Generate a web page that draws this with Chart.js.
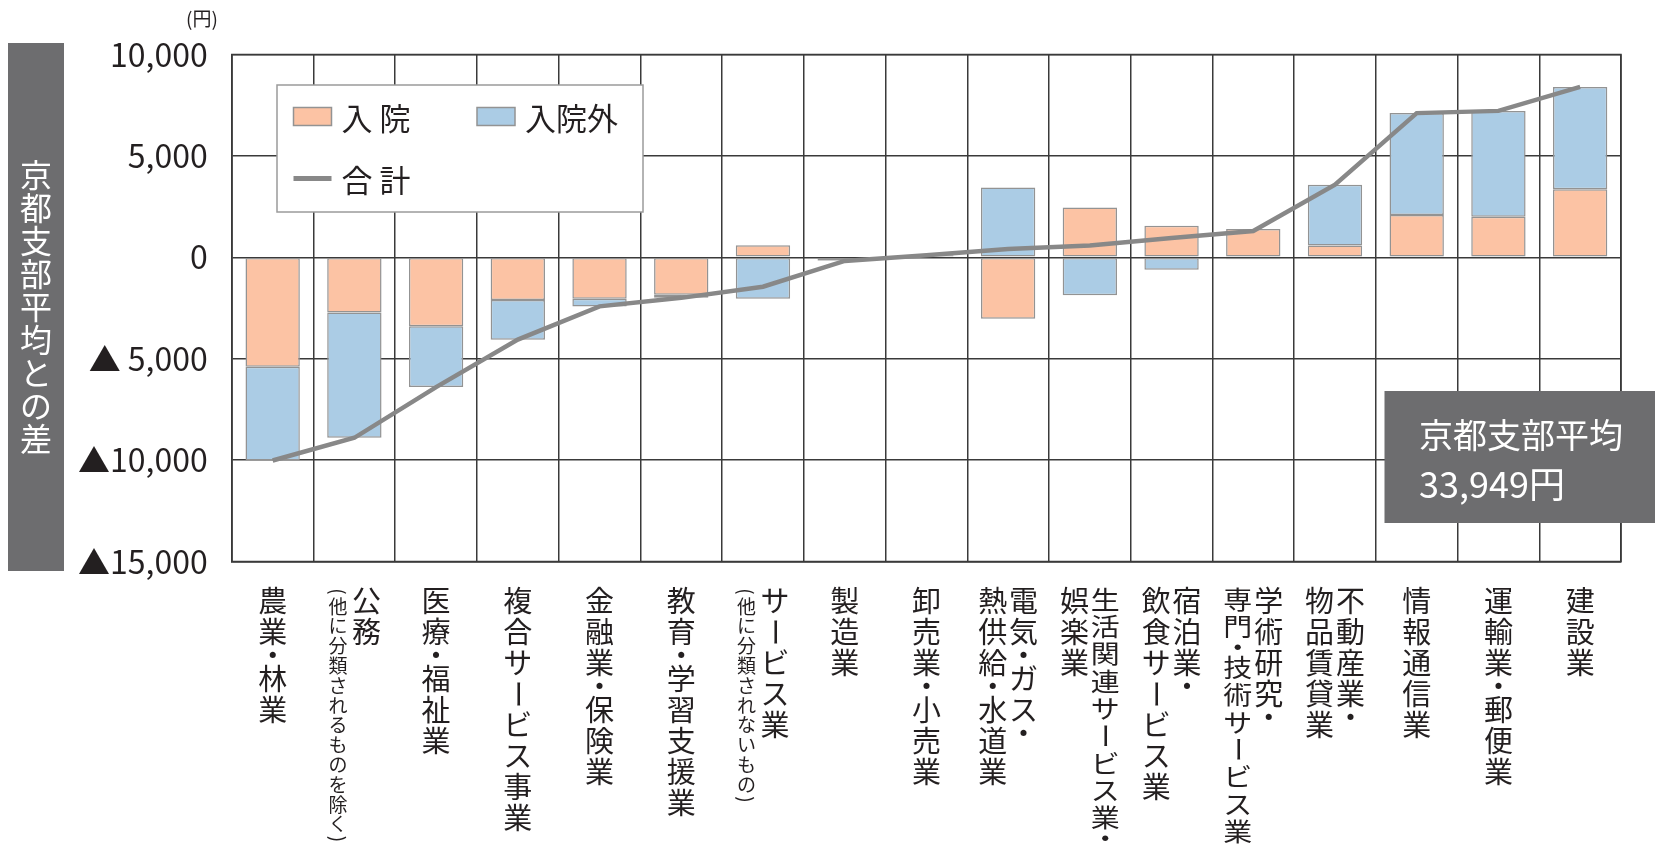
<!DOCTYPE html>
<html lang="ja">
<head>
<meta charset="utf-8">
<title>京都支部平均との差</title>
<script src="https://cdn.jsdelivr.net/npm/chart.js@4.4.1/dist/chart.umd.min.js"></script>
<style>
  html, body { margin: 0; padding: 0; background: #fff; }
  #wrap { width: 1655px; height: 849px; position: relative; }
</style>
</head>
<body>
<div id="wrap"><canvas id="diffChart"></canvas></div>
<script>
// industries, each label split into vertical lines (first line drawn rightmost)
const industries = [
  ['農業・林業'],
  ['公務'],
  ['医療・福祉業'],
  ['複合サービス事業'],
  ['金融業・保険業'],
  ['教育・学習支援業'],
  ['サービス業'],
  ['製造業'],
  ['卸売業・小売業'],
  ['電気・ガス・', '熱供給・水道業'],
  ['生活関連サービス業・', '娯楽業'],
  ['宿泊業・', '飲食サービス業'],
  ['学術研究・', '専門・技術サービス業'],
  ['不動産業・', '物品賃貸業'],
  ['情報通信業'],
  ['運輸業・郵便業'],
  ['建設業']
];
const industryNotes = [
  '', '(他に分類されるものを除く)', '', '', '', '', '(他に分類されないもの)',
  '', '', '', '', '', '', '', '', '', ''
];

// difference from the branch average (yen)
const inpatient  = [-5400, -2720, -3400, -2100, -2050, -1850,   600, -160, 40, -3030,  2450, 1560, 1400,  580, 2080, 2000, 3350];
const outpatient = [-4620, -6180, -3000, -1960,  -370,  -150, -2050,  -20, 60,  3440, -1870, -610, -100, 3000, 5030, 5220, 5050];
const total      = [-10020, -8900, -6400, -4060, -2420, -2000, -1450, -180, 100, 410, 580, 950, 1300, 3580, 7110, 7220, 8400];

const yMin = -15000;
const yMax = 10000;
const yStep = 5000;

const branchAverage = 33949;

const FONT = '"Noto Sans CJK JP", "Noto Sans", sans-serif';
const TEXT = '#231f20';
const GRID = '#3a3a3a';
const ORANGE = '#fcc3a4';
const BLUE = '#abcce5';
const BAR_EDGE = '#939393';
const LINE = '#888888';
const DARK_BOX = '#6d6d6f';

const fmt = n => n.toLocaleString('en-US');

// characters turned sideways in vertical text, and ones taking half a cell
const ROTATED = new Set(['ー', '(', ')']);
const HALF = new Set(['・', '(', ')']);

const cells = text => [...text].reduce((n, ch) => n + (HALF.has(ch) ? 0.5 : 1), 0);

// squash < 1 flattens each glyph so a long line still fits
function drawVertical(ctx, text, cx, top, step, squash = 1) {
  let yy = top;
  for (const ch of text) {
    const adv = HALF.has(ch) ? step * 0.5 : step;
    const cy = yy + adv / 2;
    ctx.save();
    ctx.translate(cx, cy);
    ctx.scale(1, squash);
    if (ROTATED.has(ch)) ctx.rotate(Math.PI / 2);
    ctx.fillText(ch, 0, 0);
    ctx.restore();
    yy += adv;
  }
}

const decorations = {
  id: 'decorations',
  beforeDraw(chart) {
    const {ctx, width, height} = chart;
    ctx.save();
    ctx.fillStyle = '#fff';
    ctx.fillRect(0, 0, width, height);
    ctx.restore();
  },
  afterDraw(chart) {
    const {ctx, chartArea: a, scales: {x}, height} = chart;
    const ds = chart.data.datasets;
    ctx.save();

    // plot frame
    ctx.strokeStyle = GRID;
    ctx.lineWidth = 1.5;
    ctx.strokeRect(a.left, a.top, a.right - a.left, a.bottom - a.top);

    // unit
    ctx.fillStyle = TEXT;
    ctx.font = '19px ' + FONT;
    ctx.textAlign = 'center';
    ctx.textBaseline = 'middle';
    ctx.fillText('(円)', 202, 19);

    // y axis title box
    ctx.fillStyle = DARK_BOX;
    ctx.fillRect(8, 43, 56, 528);
    ctx.fillStyle = '#fff';
    ctx.font = '32px ' + FONT;
    drawVertical(ctx, '京都支部平均との差', 36, 158, 33);

    // category labels, written top to bottom; long lines are squeezed to fit
    ctx.fillStyle = TEXT;
    const top = a.bottom + 24;
    const room = height - 4 - top;
    industries.forEach((lines, i) => {
      const cx = x.getPixelForValue(i);
      const note = industryNotes[i];
      ctx.font = '29px ' + FONT;
      if (note) {
        drawVertical(ctx, lines[0], cx + 12, top, 31);
        ctx.font = '19px ' + FONT;
        const ns = Math.min(19.8, room / cells(note));
        drawVertical(ctx, note, cx - 16.5, top + 1, ns, ns / 19.8);
      } else {
        const gap = 30.8;
        lines.forEach((line, j) => {
          const step = Math.min(31, room / cells(line));
          drawVertical(ctx, line, cx + (lines.length - 1) * gap / 2 - j * gap, top, step, step / 31);
        });
      }
    });

    // legend
    ctx.fillStyle = '#fff';
    ctx.fillRect(277, 85, 366, 127);
    ctx.strokeStyle = '#9b9b9b';
    ctx.lineWidth = 1.5;
    ctx.strokeRect(277, 85, 366, 127);
    ctx.font = '31px ' + FONT;
    ctx.textAlign = 'left';
    const swatch = (sx, d) => {
      ctx.fillStyle = d.backgroundColor;
      ctx.fillRect(sx, 107.5, 38, 18);
      ctx.strokeStyle = d.borderColor;
      ctx.lineWidth = 1.5;
      ctx.strokeRect(sx, 107.5, 38, 18);
      ctx.fillStyle = TEXT;
      ctx.fillText(d.label, sx + 48, 118);
    };
    swatch(293.5, ds[0]);
    swatch(477, ds[1]);
    ctx.strokeStyle = ds[2].borderColor;
    ctx.lineWidth = 5;
    ctx.beginPath();
    ctx.moveTo(293.5, 178.5);
    ctx.lineTo(331.5, 178.5);
    ctx.stroke();
    ctx.fillStyle = TEXT;
    ctx.fillText(ds[2].label, 341.5, 180);

    // branch average note
    ctx.fillStyle = DARK_BOX;
    ctx.fillRect(1384.5, 391, 1655 - 1384.5, 132);
    ctx.fillStyle = '#fff';
    ctx.font = '34px ' + FONT;
    ctx.fillText('京都支部平均', 1419, 435);
    ctx.font = '36px ' + FONT;
    ctx.fillText(fmt(branchAverage) + '円', 1419, 484);

    ctx.restore();
  }
};

new Chart(document.getElementById('diffChart'), {
  type: 'bar',
  data: {
    labels: industries,
    datasets: [
      {
        label: '入 院',
        data: inpatient,
        backgroundColor: ORANGE,
        borderColor: BAR_EDGE,
        borderWidth: 1.5,
        borderSkipped: false,
        barPercentage: 0.665,
        categoryPercentage: 1,
        order: 1
      },
      {
        label: '入院外',
        data: outpatient,
        backgroundColor: BLUE,
        borderColor: BAR_EDGE,
        borderWidth: 1.5,
        borderSkipped: false,
        barPercentage: 0.665,
        categoryPercentage: 1,
        order: 1
      },
      {
        type: 'line',
        label: '合 計',
        data: total,
        borderColor: LINE,
        borderWidth: 4.5,
        pointRadius: 0,
        tension: 0,
        fill: false,
        order: 0
      }
    ]
  },
  options: {
    responsive: true,
    maintainAspectRatio: false,
    animation: false,
    events: [],
    layout: { padding: { top: 54.5, right: 34, left: 0, bottom: 0 } },
    plugins: {
      legend: { display: false },
      tooltip: { enabled: false }
    },
    scales: {
      x: {
        stacked: true,
        offset: true,
        grid: { display: true, offset: true, color: GRID, lineWidth: 1.5, drawTicks: false },
        border: { display: true, color: GRID, width: 1.5 },
        ticks: { display: false },
        afterFit(scale) { scale.height = 287.5; }
      },
      y: {
        stacked: true,
        min: yMin,
        max: yMax,
        grid: { color: GRID, lineWidth: 1.5, drawTicks: false },
        border: { display: true, color: GRID, width: 1.5 },
        ticks: {
          stepSize: yStep,
          padding: 24,
          color: TEXT,
          font: { family: FONT, size: 32 },
          callback(v) {
            if (v >= 0) return fmt(v);
            const s = fmt(-v);
            return '▲' + (s.length < 6 ? ' ' : '') + s;
          }
        },
        afterFit(scale) { scale.width = 231.8; }
      }
    }
  },
  plugins: [decorations]
});
</script>
</body>
</html>
